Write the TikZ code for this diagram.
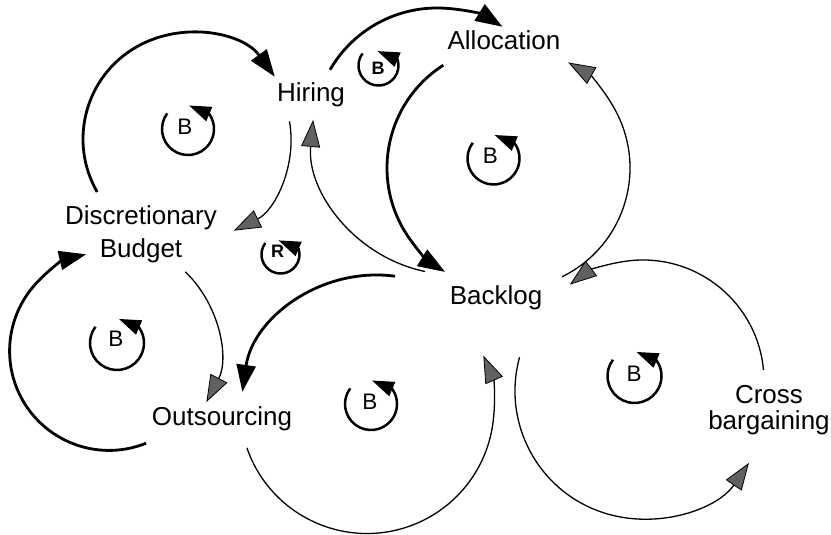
\documentclass[tikz,border=0pt]{standalone}
\usepackage{fontspec}
\setmainfont{Liberation Sans}
\usetikzlibrary{arrows.meta,calc}

% circular link: style, centre, radius (pt), start angle, end angle
\newcommand\linkarc[5]{%
  \draw[#1] (#2) ++(#4:#3pt) arc[start angle=#4, end angle=#5, radius=#3pt];}

% loop polarity sign: name, centre, radius, end angle, letter style, letter position, letter
\newcommand\loopsign[7]{%
  \coordinate (#1) at (#2);
  \draw[signline] (#1) ++(143:#3pt) arc[start angle=143, end angle=#4, radius=#3pt] -- ++(157:22pt);
  \node[#5] (#1-txt) at (#6) {#7};}

\begin{document}
\begin{tikzpicture}[x=1pt,y=-1pt,
  varname/.style={inner sep=0pt, font=\fontsize{26}{33}\selectfont},
  solidlink/.style={line width=2.8pt, -{Triangle[length=27pt,width=19pt]}},
  greylink/.style={line width=1.3pt,
    -{Triangle[length=27pt,width=19pt,fill=black!62,color=black,line width=0.8pt]}},
  signline/.style={line width=2.5pt, -{Triangle[length=22pt,width=15pt]}},
  bigletter/.style={inner sep=0pt, font=\fontsize{22.5}{22.5}\selectfont},
  smallletter/.style={inner sep=0pt, font=\fontsize{18}{18}\selectfont\bfseries},
]
\useasboundingbox (0,0) rectangle (831,535);

% variables
\node[varname, anchor=base] (hiring) at (311,102) {Hiring};
\node[varname, anchor=base] (allocation) at (504,50) {Allocation};
\node[varname, align=center] (budget) at (141,234) {Discretionary\\Budget};
\node[varname, anchor=base] (backlog) at (496,304) {Backlog};
\node[varname, anchor=base] (outsourcing) at (222,425) {Outsourcing};
\node[varname, align=center, font=\fontsize{26}{26}\selectfont] (cross) at (769,410) {Cross\\bargaining};

% centres of the causal arcs
\coordinate (cA) at (189,139);
\coordinate (cC) at (437,131.5);
\coordinate (cD) at (509,168);
\coordinate (cF) at (454,133);
\coordinate (cG) at (377,411);
\coordinate (cH) at (367,406.5);
\coordinate (cI) at (643,391);
\coordinate (cJ) at (643,381);
\coordinate (cK) at (109,351);

% budget -> hiring -> budget
\linkarc{solidlink}{cA}{106}{210}{36}
\linkarc{greylink}{cA}{102}{10}{-64}
% hiring -> allocation -> backlog -> hiring
\linkarc{solidlink}{cC}{123.5}{150}{58}
\linkarc{solidlink}{cD}{122}{122.6}{238.4}
\linkarc{greylink}{cD}{121}{-64}{60.7}
\linkarc{greylink}{cF}{141.5}{258.2}{174.7}
% backlog <-> outsourcing
\linkarc{solidlink}{cG}{136}{82.4}{171.9}
\linkarc{greylink}{cH}{127}{199}{383.6}
% backlog <-> cross bargaining
\linkarc{greylink}{cI}{128}{164.7}{325.8}
\linkarc{greylink}{cJ}{121}{5.3}{127.2}
% outsourcing <-> budget
\linkarc{solidlink}{cK}{99.4}{291.9}{103.3}
\linkarc{greylink}{cK}{110}{46.1}{-27.7}

% loop polarity signs
\loopsign{sBudHire}{188,129}{26}{395}{bigletter}{185,126.5}{B}
\loopsign{sHireAlloc}{378.5,65.5}{20}{377}{smallletter}{378,68}{B}
\loopsign{sReinf}{280.5,254.5}{19}{377}{smallletter}{277.5,251}{R}
\loopsign{sAlloc}{493.5,158.5}{26}{395}{bigletter}{490.5,155.5}{B}
\loopsign{sBudOut}{117,343}{27}{395}{bigletter}{116,339}{B}
\loopsign{sOutBack}{371,404}{26}{395}{bigletter}{370,402}{B}
\loopsign{sCross}{634.5,376}{27}{395}{bigletter}{634,374}{B}
\end{tikzpicture}
\end{document}
